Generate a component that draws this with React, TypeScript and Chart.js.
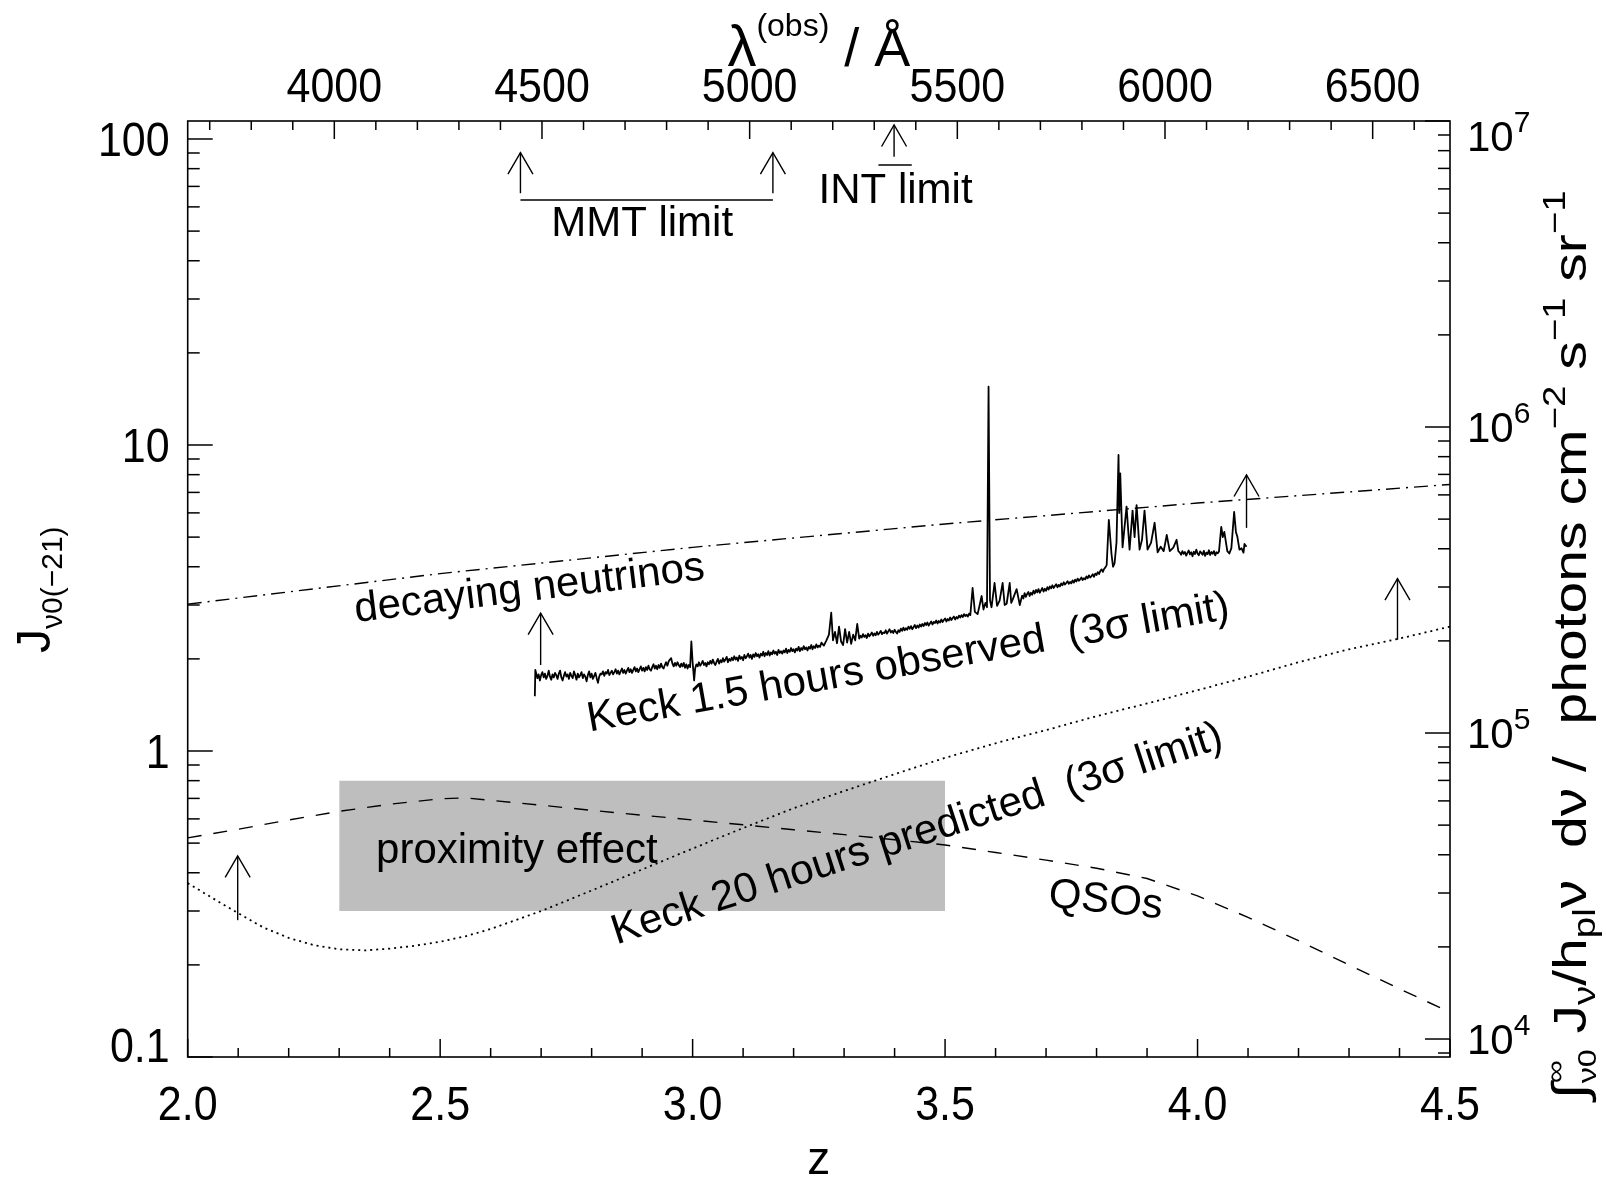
import { useEffect, useRef } from 'react';
import { Chart, registerables } from 'chart.js';

Chart.register(...registerables);

const W = 1606;
const H = 1179;
const FONT = "'Liberation Sans', Arial, Helvetica, sans-serif";

// ---------- axes ----------
const zRange = [2.0, 4.5];
const jRange = [0.1, 114.5];
const photonRange = [8.734e3, 1.0e7];
const lyaRest = 1215.67; // Angstrom

const zMajor = [2.0, 2.5, 3.0, 3.5, 4.0, 4.5];
const zTickLabels = ['2.0', '2.5', '3.0', '3.5', '4.0', '4.5'];
const lambdaMajor = [4000, 4500, 5000, 5500, 6000, 6500];
const lambdaTickLabels = ['4000', '4500', '5000', '5500', '6000', '6500'];
const jMajor = [0.1, 1, 10, 100];
const jTickLabels = ['0.1', '1', '10', '100'];
const photonMajor = [1e4, 1e5, 1e6, 1e7];
const photonExponents = ['4', '5', '6', '7'];

// ---------- model curves ----------
const neutrinoZ = [2.0, 2.5, 3.0, 3.5, 4.0, 4.5];
const neutrinoJ = [3.02, 3.8, 4.63, 5.52, 6.46, 7.43];

const qsoZ = [2.0, 2.1, 2.2, 2.3, 2.4, 2.5, 2.55, 2.6, 2.7, 2.8, 2.9, 3.0, 3.1, 3.2, 3.3, 3.4, 3.5, 3.6, 3.7, 3.8, 3.9, 4.0, 4.1, 4.2, 4.3, 4.4, 4.5];
const qsoJ = [0.52, 0.555, 0.595, 0.635, 0.67, 0.698, 0.703, 0.69, 0.665, 0.64, 0.617, 0.595, 0.574, 0.553, 0.533, 0.513, 0.493, 0.466, 0.44, 0.414, 0.383, 0.336, 0.286, 0.24, 0.2, 0.167, 0.14];

const predictedZ = [2.0, 2.05, 2.1, 2.15, 2.2, 2.25, 2.3, 2.35, 2.4, 2.45, 2.5, 2.55, 2.6, 2.7, 2.8, 2.9, 3.0, 3.1, 3.2, 3.3, 3.4, 3.5, 3.6, 3.7, 3.8, 3.9, 4.0, 4.1, 4.2, 4.3, 4.4, 4.5];
const predictedJ = [0.37, 0.33, 0.295, 0.265, 0.245, 0.232, 0.225, 0.223, 0.226, 0.231, 0.238, 0.248, 0.262, 0.3, 0.35, 0.41, 0.48, 0.56, 0.65, 0.74, 0.84, 0.95, 1.06, 1.17, 1.3, 1.43, 1.58, 1.75, 1.95, 2.15, 2.33, 2.55];

// ---------- Keck 1.5 h observed spectrum ----------
// continuum stretches sampled on the spectrograph pixel grid (dz = 0.0025): start redshift + read values
const keckPixel = 0.0025;
const keckContA = { z0: 2.69, j: [1.8, 1.73, 1.78, 1.7, 1.77, 1.81, 1.74, 1.79, 1.72, 1.76, 1.83, 1.75, 1.71, 1.78, 1.74, 1.8, 1.77, 1.72, 1.79, 1.83, 1.74, 1.7, 1.76, 1.81, 1.75, 1.78, 1.72, 1.8, 1.76, 1.73, 1.82, 1.77, 1.71, 1.79, 1.74, 1.77, 1.81, 1.73, 1.78, 1.75, 1.69, 1.77, 1.82, 1.74, 1.79, 1.72, 1.76, 1.8, 1.73, 1.67, 1.75, 1.79] };
const keckContB = { z0: 2.82, j: [
  1.78, 1.82, 1.76, 1.81, 1.79, 1.84, 1.77, 1.8, 1.83, 1.78,
  1.81, 1.85, 1.79, 1.83, 1.78, 1.82, 1.86, 1.8, 1.84, 1.79,
  1.83, 1.87, 1.81, 1.85, 1.8, 1.84, 1.88, 1.82, 1.86, 1.81,
  1.85, 1.89, 1.83, 1.87, 1.82, 1.88, 1.84, 1.9, 1.85, 1.83,
  1.88, 1.92, 1.86, 1.9, 1.85, 1.91, 1.87, 1.93, 1.88, 1.86,
  1.91, 1.95, 1.9, 1.96, 1.99, 2.01, 1.93, 1.89, 1.94, 1.9,
  1.95, 1.91, 1.88, 1.93, 1.89, 1.94, 1.87, 1.92, 1.86, 1.91,
  1.88] };
const keckContC = { z0: 3.005, j: [
  1.86, 1.92, 1.89, 1.95, 1.9, 1.93, 1.97, 1.91, 1.94, 1.89,
  1.95, 1.92, 1.97, 1.93, 1.99, 1.94, 1.91, 1.96, 2.0, 1.93,
  1.98, 1.95, 2.01, 1.96, 1.99, 2.03, 1.95, 2.0, 1.97, 2.02,
  1.98, 2.04, 1.99, 2.02, 1.97, 2.05, 2.0, 2.03, 1.98, 2.06,
  2.01, 2.04, 2.08, 2.02, 2.06, 2.0, 2.07, 2.03, 2.09, 2.04,
  2.07, 2.02, 2.08, 2.05, 2.11, 2.04, 2.09, 2.06, 2.12, 2.05,
  2.1, 2.07, 2.13, 2.08, 2.11, 2.06, 2.14, 2.09, 2.12, 2.08,
  2.13, 2.1, 2.16, 2.09, 2.14, 2.11, 2.17, 2.12, 2.15, 2.1,
  2.16, 2.13, 2.19, 2.12, 2.17, 2.14, 2.2, 2.15, 2.18, 2.13,
  2.19, 2.16, 2.22, 2.15, 2.2, 2.17, 2.23, 2.18, 2.21, 2.19,
  2.26] };
const keckContD = { z0: 3.33, j: [
  2.33, 2.38, 2.35, 2.41, 2.36, 2.39, 2.34, 2.42, 2.37, 2.4,
  2.44, 2.38, 2.42, 2.39, 2.45, 2.4, 2.43, 2.47, 2.41, 2.44,
  2.43, 2.48, 2.42, 2.46, 2.5, 2.44, 2.47, 2.43, 2.49, 2.45,
  2.42, 2.48, 2.45, 2.51, 2.47, 2.53, 2.48, 2.52, 2.49, 2.55,
  2.51, 2.56, 2.5, 2.54, 2.58, 2.52, 2.57, 2.53, 2.59, 2.55,
  2.6, 2.56, 2.62, 2.58, 2.63, 2.57, 2.61, 2.65, 2.59, 2.64,
  2.62, 2.67, 2.61, 2.66, 2.63, 2.69, 2.64, 2.68, 2.71, 2.65,
  2.7, 2.67, 2.73, 2.68, 2.72, 2.75, 2.69, 2.74, 2.71, 2.77,
  2.73, 2.78, 2.74, 2.8, 2.76, 2.79, 2.75, 2.81, 2.78] };
const keckContE = { z0: 3.6525, j: [
  3.22, 3.15, 3.28, 3.19, 3.26, 3.31, 3.21, 3.29, 3.24, 3.34,
  3.27, 3.36, 3.3, 3.38, 3.29, 3.35, 3.41, 3.32, 3.39, 3.34,
  3.43, 3.37, 3.45, 3.4, 3.48, 3.41, 3.46, 3.51, 3.43, 3.49,
  3.45, 3.53, 3.48, 3.56, 3.5, 3.54, 3.59, 3.52, 3.57, 3.53,
  3.61, 3.55, 3.63, 3.58, 3.66, 3.6, 3.64, 3.69, 3.62, 3.67,
  3.64, 3.72, 3.67, 3.75, 3.69, 3.73, 3.78, 3.71, 3.8, 3.76,
  3.84, 3.79, 3.88, 3.92, 3.85, 3.94, 3.98] };
const keckContF = { z0: 3.965, j: [
  4.45, 4.38, 4.5, 4.41, 4.47, 4.35, 4.44, 4.52, 4.39, 4.46,
  4.33, 4.48, 4.4, 4.55, 4.42, 4.36, 4.49, 4.44, 4.38, 4.51,
  4.34, 4.45, 4.4, 4.53, 4.37, 4.47, 4.41, 4.5, 4.36, 4.46,
  4.43, 4.49] };
// emission spikes / absorption features read individually [z, J]
const keckFeatures: [number, number][] = [
  [2.6875, 1.51], [2.6885, 1.84],
  [2.9975, 2.28], [3.0, 1.95], [3.003, 1.7],
  [3.26, 2.21], [3.265, 2.3], [3.27, 2.4], [3.2745, 2.83], [3.278, 2.3], [3.282, 2.45], [3.286, 2.25], [3.29, 2.55],
  [3.294, 2.28], [3.298, 2.22], [3.302, 2.5], [3.306, 2.26], [3.31, 2.45], [3.314, 2.24], [3.318, 2.4], [3.322, 2.3], [3.326, 2.6],
  [3.5545, 3.41], [3.559, 2.85], [3.5644, 2.8], [3.5685, 3.0], [3.5724, 3.21], [3.576, 2.9], [3.58, 3.05], [3.583, 2.95],
  [3.5861, 15.5], [3.589, 3.1], [3.592, 2.95], [3.598, 3.54], [3.603, 2.98], [3.608, 3.1], [3.614, 3.54], [3.618, 3.0],
  [3.622, 3.03], [3.628, 3.54], [3.631, 3.05], [3.634, 3.13], [3.6417, 3.38], [3.648, 3.0],
  [3.82, 4.05], [3.8243, 5.69], [3.8296, 4.4], [3.8326, 4.0], [3.8356, 4.1], [3.8395, 4.8], [3.8435, 9.28], [3.845, 6.0],
  [3.8469, 8.08], [3.8515, 4.63], [3.8594, 6.29], [3.8654, 4.55], [3.8713, 6.1], [3.8753, 5.0], [3.8793, 6.36], [3.8852, 4.55],
  [3.89, 4.9], [3.895, 6.1], [3.901, 4.55], [3.908, 4.8], [3.915, 5.57], [3.921, 4.46], [3.927, 4.65], [3.933, 4.5],
  [3.939, 5.08], [3.945, 4.5], [3.952, 4.62], [3.9585, 4.9], [3.962, 4.5],
  [4.047, 5.4], [4.05, 5.0], [4.053, 5.2], [4.059, 4.5], [4.063, 4.42], [4.067, 4.6], [4.0725, 6.05], [4.076, 5.2],
  [4.079, 5.0], [4.083, 4.55], [4.087, 4.6], [4.091, 4.45], [4.093, 4.75], [4.097, 4.65],
];

const proximityZ = [2.3, 3.5];
const proximityJ = [0.3, 0.8];

// upward arrows (lower limits)
const arrowZ = [2.659, 3.159, 3.399, 2.699, 4.097, 4.396, 2.099];
const arrowFromJ = [66.5, 66.5, 87.5, 1.91, 5.36, 2.31, 0.28];
const arrowToJ = [90.2, 90.2, 111.1, 2.82, 7.98, 3.66, 0.454];

// horizontal bars under the MMT / INT arrows
const limitBarZ0 = [2.659, 3.368];
const limitBarZ1 = [3.159, 3.434];
const limitBarJ = [63.2, 82.2];

const noteTexts = [
  'decaying neutrinos',
  'Keck 1.5 hours observed  (3\u03c3 limit)',
  'Keck 20 hours predicted  (3\u03c3 limit)',
  'proximity effect',
  'QSOs',
  'MMT limit',
  'INT limit',
];
const noteZ = [2.677, 3.427, 3.445, 2.652, 3.818, 2.9, 3.402];
const noteJ = [3.38, 1.93, 0.533, 0.468, 0.3235, 52.4, 67.6];
const noteAngle = [-7, -10, -18, 0, 6, 0, 0];

type Piece = { t: string; s: number; dy?: number; stack?: { t: string; s: number; dy: number }[] };

function piecesWidth(ctx: CanvasRenderingContext2D, pieces: Piece[]) {
  let w = 0;
  for (const p of pieces) {
    if (p.stack) {
      let m = 0;
      for (const q of p.stack) {
        ctx.font = `${q.s}px ${FONT}`;
        m = Math.max(m, ctx.measureText(q.t).width);
      }
      w += m;
    } else {
      ctx.font = `${p.s}px ${FONT}`;
      w += ctx.measureText(p.t).width;
    }
  }
  return w;
}

function drawPieces(ctx: CanvasRenderingContext2D, pieces: Piece[], x: number, y: number) {
  let cx = x;
  ctx.textAlign = 'left';
  ctx.textBaseline = 'alphabetic';
  for (const p of pieces) {
    if (p.stack) {
      let m = 0;
      for (const q of p.stack) {
        ctx.font = `${q.s}px ${FONT}`;
        ctx.fillText(q.t, cx, y + q.dy);
        m = Math.max(m, ctx.measureText(q.t).width);
      }
      cx += m;
    } else {
      ctx.font = `${p.s}px ${FONT}`;
      ctx.fillText(p.t, cx, y + (p.dy || 0));
      cx += ctx.measureText(p.t).width;
    }
  }
}

const topTitle: Piece[] = [
  { t: '\u03bb', s: 58 },
  { t: '(obs)', s: 32, dy: -30 },
  { t: ' / \u00c5', s: 54 },
];
const leftTitle: Piece[] = [
  { t: 'J', s: 48 },
  { t: '\u03bd0(\u221221)', s: 30, dy: 12 },
];
const rightTitle: Piece[] = [
  { t: '\u222b', s: 48 },
  { t: '', s: 26, stack: [{ t: '\u221e', s: 26, dy: -22 }, { t: '\u03bd0', s: 26, dy: 10 }] },
  { t: ' J', s: 46 },
  { t: '\u03bd', s: 31, dy: 9 },
  { t: '/h', s: 46 },
  { t: 'pl', s: 31, dy: 9 },
  { t: '\u03bd  d\u03bd /  photons cm', s: 46 },
  { t: '\u22122', s: 31, dy: -21 },
  { t: ' s', s: 46 },
  { t: '\u22121', s: 31, dy: -21 },
  { t: ' sr', s: 46 },
  { t: '\u22121', s: 31, dy: -21 },
];

function stretchedText(ctx: CanvasRenderingContext2D, t: string, x: number, y: number, sy: number) {
  ctx.save();
  ctx.translate(x, y);
  ctx.scale(1, sy);
  ctx.fillText(t, 0, 0);
  ctx.restore();
}

const figurePlugin = {
  id: 'figure',
  afterDraw(chart: any) {
    const ctx: CanvasRenderingContext2D = chart.ctx;
    const a = chart.chartArea;
    const xs = chart.scales.x;
    const xt = chart.scales.x2;
    const ys = chart.scales.y;
    const yr = chart.scales.y2;
    const X = (z: number) => xs.getPixelForValue(z);
    const Y = (j: number) => ys.getPixelForValue(j);

    ctx.save();
    ctx.strokeStyle = '#000';
    ctx.fillStyle = '#000';
    ctx.lineWidth = 1.5;
    ctx.lineCap = 'butt';
    const seg = (x1: number, y1: number, x2: number, y2: number) => {
      ctx.beginPath();
      ctx.moveTo(x1, y1);
      ctx.lineTo(x2, y2);
      ctx.stroke();
    };

    // bottom z ticks
    for (let k = Math.round(zRange[0] * 10); k <= Math.round(zRange[1] * 10); k++) {
      const px = X(k / 10);
      seg(px, a.bottom, px, a.bottom - (k % 5 === 0 ? 18 : 9));
    }
    // top wavelength ticks
    for (let l = Math.ceil(xt.min / 100) * 100; l <= xt.max; l += 100) {
      const px = xt.getPixelForValue(l);
      seg(px, a.top, px, a.top + (l % 500 === 0 ? 18 : 9));
    }
    // log ticks
    const logTicks = (scale: any, x0: number, dir: number) => {
      const e0 = Math.floor(Math.log10(scale.min));
      const e1 = Math.ceil(Math.log10(scale.max));
      for (let e = e0; e <= e1; e++) {
        for (let m = 1; m <= 9; m++) {
          const v = m * Math.pow(10, e);
          if (v < scale.min * 0.9999 || v > scale.max * 1.0001) continue;
          const py = scale.getPixelForValue(v);
          seg(x0, py, x0 + dir * (m === 1 ? 25 : 12), py);
        }
      }
    };
    logTicks(ys, a.left, 1);
    logTicks(yr, a.right, -1);

    ctx.lineWidth = 1.6;
    ctx.strokeRect(a.left, a.top, a.right - a.left, a.bottom - a.top);

    // tick labels
    ctx.font = `43px ${FONT}`;
    ctx.textBaseline = 'alphabetic';
    ctx.textAlign = 'center';
    zMajor.forEach((v, i) => stretchedText(ctx, zTickLabels[i], X(v), a.bottom + 63, 1.12));
    lambdaMajor.forEach((v, i) => stretchedText(ctx, lambdaTickLabels[i], xt.getPixelForValue(v), a.top - 19, 1.12));
    ctx.textAlign = 'right';
    jMajor.forEach((v, i) => {
      const c = Math.min(Math.max(Y(v), a.top + 14), a.bottom - 12);
      stretchedText(ctx, jTickLabels[i], a.left - 18, c + 17, 1.12);
    });
    photonMajor.forEach((v, i) => {
      const c = Math.min(Math.max(yr.getPixelForValue(v), a.top + 15), a.bottom - 12);
      drawPieces(ctx, [{ t: '10', s: 42 }, { t: photonExponents[i], s: 30, dy: -19 }], a.right + 17, c + 15);
    });

    // axis titles
    ctx.font = `46px ${FONT}`;
    ctx.textAlign = 'center';
    ctx.fillText('z', (a.left + a.right) / 2, 1174);
    const tw = piecesWidth(ctx, topTitle);
    drawPieces(ctx, topTitle, (a.left + a.right) / 2 - tw / 2, 66);

    ctx.save();
    ctx.translate(50, 653);
    ctx.rotate(-Math.PI / 2);
    drawPieces(ctx, leftTitle, 0, 0);
    ctx.restore();

    ctx.save();
    const stretch = 1.24;
    const rw = piecesWidth(ctx, rightTitle) * stretch;
    ctx.translate(1586, 645 + rw / 2);
    ctx.rotate(-Math.PI / 2);
    ctx.scale(stretch, 1);
    drawPieces(ctx, rightTitle, 0, 0);
    ctx.restore();

    // arrows
    ctx.lineWidth = 1.4;
    arrowZ.forEach((z, i) => {
      const px = X(z);
      const y0 = Y(arrowFromJ[i]);
      const y1 = Y(arrowToJ[i]);
      seg(px, y0, px, y1);
      ctx.beginPath();
      ctx.moveTo(px - 12.5, y1 + 21.5);
      ctx.lineTo(px, y1);
      ctx.lineTo(px + 12.5, y1 + 21.5);
      ctx.stroke();
    });
    limitBarZ0.forEach((z0, i) => seg(X(z0), Y(limitBarJ[i]), X(limitBarZ1[i]), Y(limitBarJ[i])));

    // annotations
    ctx.font = `42px ${FONT}`;
    ctx.textAlign = 'center';
    ctx.textBaseline = 'middle';
    noteTexts.forEach((t, i) => {
      ctx.save();
      ctx.translate(X(noteZ[i]), Y(noteJ[i]));
      ctx.rotate((noteAngle[i] * Math.PI) / 180);
      ctx.fillText(t, 0, 0);
      ctx.restore();
    });

    ctx.restore();
  },
};

function keckObservedPoints() {
  const pts: { x: number; y: number }[] = [];
  for (const blk of [keckContA, keckContB, keckContC, keckContD, keckContE, keckContF]) {
    blk.j.forEach((j, i) => pts.push({ x: blk.z0 + i * keckPixel, y: j }));
  }
  keckFeatures.forEach(([z, j]) => pts.push({ x: z, y: j }));
  pts.sort((p, q) => p.x - q.x);
  return pts;
}

export default function App() {
  const ref = useRef<HTMLCanvasElement | null>(null);
  useEffect(() => {
    if (!ref.current) return;
    const pts = (zs: number[], js: number[]) => zs.map((z, i) => ({ x: z, y: js[i] }));
    const chart = new Chart(ref.current, {
      type: 'line',
      data: {
        datasets: [
          {
            data: proximityZ.map((z) => ({ x: z, y: proximityJ[1] })),
            fill: '+1',
            backgroundColor: '#bebebe',
            borderColor: 'rgba(0,0,0,0)',
            borderWidth: 0,
          },
          {
            data: proximityZ.map((z) => ({ x: z, y: proximityJ[0] })),
            fill: false,
            borderColor: 'rgba(0,0,0,0)',
            borderWidth: 0,
          },
          {
            data: pts(neutrinoZ, neutrinoJ),
            borderColor: '#000',
            borderWidth: 1.4,
            borderDash: [14, 6, 2, 6],
            fill: false,
          },
          {
            data: pts(qsoZ, qsoJ),
            borderColor: '#000',
            borderWidth: 1.4,
            borderDash: [14, 12],
            fill: false,
          },
          {
            data: pts(predictedZ, predictedJ),
            borderColor: '#000',
            borderWidth: 1.8,
            borderDash: [2, 4],
            fill: false,
          },
          {
            data: keckObservedPoints(),
            borderColor: '#000',
            borderWidth: 1.8,
            borderJoinStyle: 'round',
            fill: false,
          },
        ] as any,
      },
      options: {
        animation: false,
        responsive: false,
        devicePixelRatio: 1,
        layout: { padding: 0 },
        elements: { point: { radius: 0 }, line: { tension: 0 } },
        plugins: {
          legend: { display: false },
          tooltip: { enabled: false },
          filler: { drawTime: 'beforeDatasetsDraw' },
        } as any,
        scales: {
          x: {
            type: 'linear',
            position: 'bottom',
            min: zRange[0],
            max: zRange[1],
            ticks: { display: false },
            grid: { display: false, drawTicks: false },
            border: { display: false },
            afterFit: (s: any) => { s.height = H - 1057; },
          },
          x2: {
            type: 'linear',
            position: 'top',
            min: lyaRest * (1 + zRange[0]),
            max: lyaRest * (1 + zRange[1]),
            ticks: { display: false },
            grid: { display: false, drawTicks: false },
            border: { display: false },
            afterFit: (s: any) => { s.height = 121; },
          },
          y: {
            type: 'logarithmic',
            position: 'left',
            min: jRange[0],
            max: jRange[1],
            ticks: { display: false },
            grid: { display: false, drawTicks: false },
            border: { display: false },
            afterFit: (s: any) => { s.width = 187.7; },
          },
          y2: {
            type: 'logarithmic',
            position: 'right',
            min: photonRange[0],
            max: photonRange[1],
            ticks: { display: false },
            grid: { display: false, drawTicks: false },
            border: { display: false },
            afterFit: (s: any) => { s.width = W - 1450; },
          },
        } as any,
      },
      plugins: [figurePlugin],
    });
    return () => chart.destroy();
  }, []);

  return (
    <div style={{ position: 'fixed', left: 0, top: 0, width: W, height: H, background: '#fff' }}>
      <canvas ref={ref} width={W} height={H} style={{ display: 'block', width: W, height: H }} />
    </div>
  );
}
